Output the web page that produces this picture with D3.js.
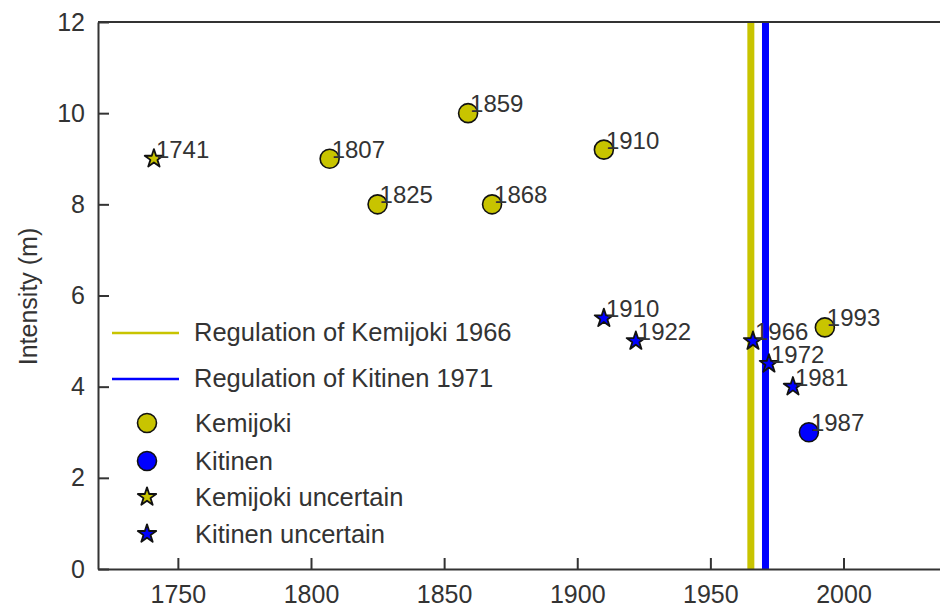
<!DOCTYPE html>
<html>
<head>
<meta charset="utf-8">
<script src="https://cdn.jsdelivr.net/npm/d3@7"></script>
<style>
  html, body { margin: 0; padding: 0; background: #fff; }
  svg { display: block; }
  text { font-family: "Liberation Sans", Arial, sans-serif; fill: #333; }
</style>
</head>
<body>
<svg id="chart" width="940" height="607"></svg>
<script>
// ---- data ----
const kemijokiYears = [1807, 1825, 1859, 1868, 1910, 1993];
const kemijokiValues = [9, 8, 10, 8, 9.2, 5.3];
const kitinenYears = [1987];
const kitinenValues = [3];
const kemijokiUncYears = [1741];
const kemijokiUncValues = [9];
const kitinenUncYears = [1910, 1922, 1966, 1972, 1981];
const kitinenUncValues = [5.5, 5, 5, 4.5, 4];
const regulationNames = ["Regulation of Kemijoki 1966", "Regulation of Kitinen 1971"];
const regulationYears = [1965.2, 1970.7];
const xTicks = [1750, 1800, 1850, 1900, 1950, 2000];
const yTicks = [0, 2, 4, 6, 8, 10, 12];
const legendNames = ["Kemijoki", "Kitinen", "Kemijoki uncertain", "Kitinen uncertain"];

// ---- styles ----
const YELLOW = "#c8c400";
const BLUE = "#0000ff";
const AXIS = "#333";
const FS_TICK = 25, FS_LABEL = 24, FS_LEG = 25.5;

const svg = d3.select("#chart");
const mLeft = 98, mTop = 22, mBottom = 569, mRight = 950;

const x = d3.scaleLinear().domain([1720, 2040]).range([mLeft, mRight]);
const y = d3.scaleLinear().domain([0, 12]).range([mBottom, mTop]);

// vertical regulation lines
const regColors = [YELLOW, BLUE];
svg.append("g").selectAll("line").data(regulationYears).join("line")
  .attr("x1", d => x(d)).attr("x2", d => x(d))
  .attr("y1", y(12)).attr("y2", y(0))
  .attr("stroke", (d, i) => regColors[i]).attr("stroke-width", 7);

// axes
const xAxis = d3.axisBottom(x).tickValues(xTicks).tickFormat(d3.format("d"))
  .tickSize(-11).tickSizeOuter(0).tickPadding(16);
const yAxis = d3.axisLeft(y).tickValues(yTicks).tickFormat(d3.format("d"))
  .tickSize(-11).tickSizeOuter(0).tickPadding(13);

const gx = svg.append("g").attr("transform", `translate(0,${mBottom})`).call(xAxis);
const gy = svg.append("g").attr("transform", `translate(${mLeft},0)`).call(yAxis);
[gx, gy].forEach(g => {
  g.select(".domain").attr("stroke", AXIS).attr("stroke-width", 2);
  g.selectAll(".tick line").attr("stroke", AXIS).attr("stroke-width", 2);
  g.selectAll(".tick text").attr("font-size", FS_TICK).attr("fill", "#333")
    .attr("font-family", "'Liberation Sans', Arial, sans-serif");
});
// frame lines
svg.append("line").attr("x1", mLeft).attr("x2", mRight).attr("y1", mTop).attr("y2", mTop)
  .attr("stroke", AXIS).attr("stroke-width", 2);
svg.append("line").attr("x1", mRight).attr("x2", mRight).attr("y1", mTop).attr("y2", mBottom)
  .attr("stroke", AXIS).attr("stroke-width", 2);

// y label
svg.append("text")
  .attr("transform", `translate(37,${(mTop + mBottom) / 2 + 1}) rotate(-90)`)
  .attr("text-anchor", "middle").attr("font-size", 25)
  .text("Intensity (m)");

// markers
const starPath = d3.symbol(d3.symbolStar, 105)();
function labels(years, vals) {
  svg.append("g").selectAll("text").data(years).join("text")
    .attr("x", d => x(d) + 2).attr("y", (d, i) => y(vals[i]) - 1)
    .attr("font-size", FS_LABEL).text(d => d);
}
function drawCircles(years, vals, color) {
  svg.append("g").selectAll("circle").data(years).join("circle")
    .attr("cx", d => x(d)).attr("cy", (d, i) => y(vals[i])).attr("r", 9.5)
    .attr("fill", color).attr("stroke", "#111").attr("stroke-width", 1.6);
  labels(years, vals);
}
function drawStars(years, vals, color) {
  svg.append("g").selectAll("path").data(years).join("path")
    .attr("d", starPath)
    .attr("transform", (d, i) => `translate(${x(d)},${y(vals[i])})`)
    .attr("fill", color).attr("stroke", "#111").attr("stroke-width", 1.8)
    .attr("stroke-linejoin", "round");
  labels(years, vals);
}
drawCircles(kemijokiYears, kemijokiValues, YELLOW);
drawCircles(kitinenYears, kitinenValues, BLUE);
drawStars(kemijokiUncYears, kemijokiUncValues, YELLOW);
drawStars(kitinenUncYears, kitinenUncValues, BLUE);

// legend
const lg = svg.append("g");
const lineYs = [333, 379];
regulationNames.forEach((n, i) => {
  lg.append("line").attr("x1", 112).attr("x2", 179).attr("y1", lineYs[i]).attr("y2", lineYs[i])
    .attr("stroke", regColors[i]).attr("stroke-width", 2.5);
  lg.append("text").attr("x", 194).attr("y", lineYs[i] + 8).attr("font-size", FS_LEG).text(n);
});
const mYs = [423, 461, 497, 534];
const mColors = [YELLOW, BLUE, YELLOW, BLUE];
legendNames.forEach((n, i) => {
  if (i < 2) {
    lg.append("circle").attr("cx", 147).attr("cy", mYs[i]).attr("r", 9.5)
      .attr("fill", mColors[i]).attr("stroke", "#111").attr("stroke-width", 1.6);
  } else {
    lg.append("path").attr("d", starPath).attr("transform", `translate(147,${mYs[i]})`)
      .attr("fill", mColors[i]).attr("stroke", "#111").attr("stroke-width", 1.8)
      .attr("stroke-linejoin", "round");
  }
  lg.append("text").attr("x", 195).attr("y", mYs[i] + 9).attr("font-size", FS_LEG).text(n);
});
</script>
</body>
</html>
